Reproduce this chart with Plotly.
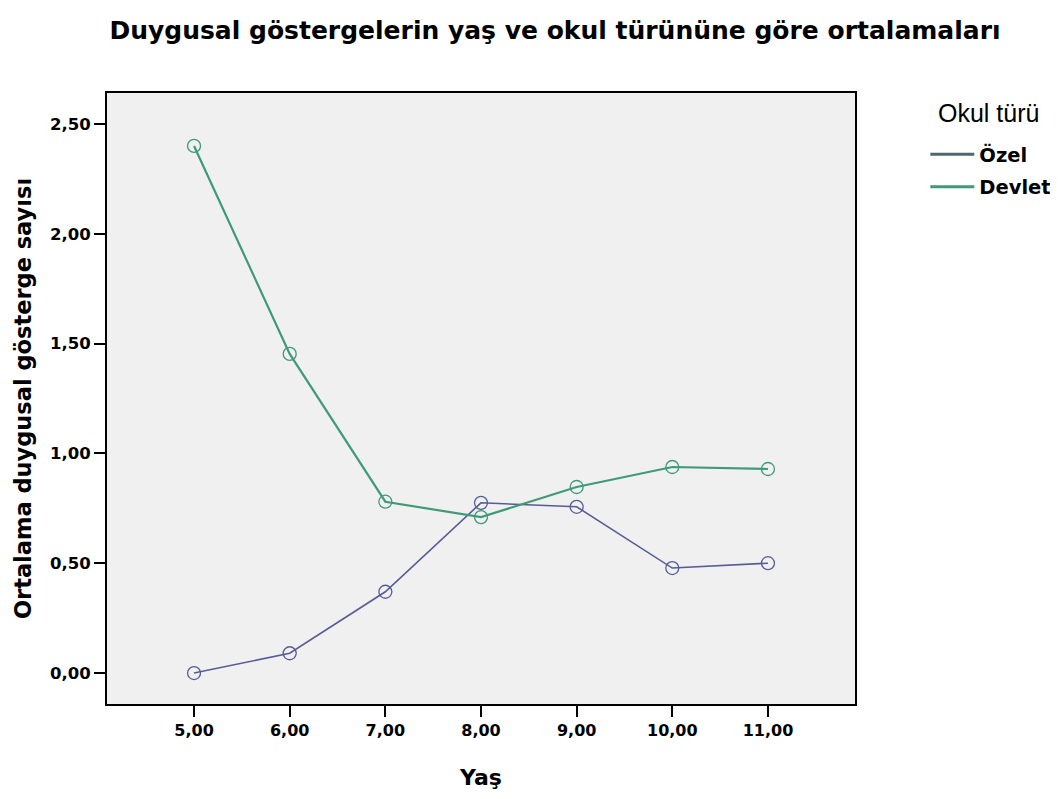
import plotly.graph_objects as go

ages = [5, 6, 7, 8, 9, 10, 11]
x_tick_labels = ["5,00", "6,00", "7,00", "8,00", "9,00", "10,00", "11,00"]
ozel = [0.00, 0.09, 0.37, 0.775, 0.757, 0.478, 0.50]
devlet = [2.40, 1.453, 0.78, 0.71, 0.847, 0.938, 0.929]
y_tick_vals = [0, 0.5, 1.0, 1.5, 2.0, 2.5]
y_tick_labels = ["0,00", "0,50", "1,00", "1,50", "2,00", "2,50"]
legend_title = "Okul türü"

c_ozel = "#575c96"
c_devlet = "#3f9a78"
BOLD = "DejaVu Sans"
REG = "Liberation Sans, Arial, sans-serif"

fig = go.Figure()
fig.add_trace(go.Scatter(x=ages, y=ozel, mode="lines+markers", showlegend=False,
                         line=dict(color=c_ozel, width=1.6),
                         marker=dict(symbol="circle-open", size=13, color=c_ozel, line=dict(width=1.3))))
fig.add_trace(go.Scatter(x=ages, y=devlet, mode="lines+markers", showlegend=False,
                         line=dict(color=c_devlet, width=2.2),
                         marker=dict(symbol="circle-open", size=13, color=c_devlet, line=dict(width=1.3))))
# legend-only entries (lines only)
fig.add_trace(go.Scatter(x=[None], y=[None], mode="lines", name="<b>Özel</b>", legendgroup="a",
                         line=dict(color="#4f6870", width=3)))
fig.add_trace(go.Scatter(x=[None], y=[None], mode="lines", name="<b>Devlet</b>", legendgroup="b",
                         line=dict(color=c_devlet, width=3)))

fig.update_layout(
    width=1058, height=799,
    margin=dict(l=99, r=211, t=85, b=103, autoexpand=False),
    paper_bgcolor="white", plot_bgcolor="#f0f0f0",
    font=dict(family=BOLD, color="black"),
    title=dict(text="<b>Duygusal göstergelerin yaş ve okul türününe göre ortalamaları</b>",
               x=0.517, xanchor="center", xref="container", y=0.9725, yanchor="middle",
               font=dict(size=25, family=BOLD, color="black")),
    showlegend=True,
    legend=dict(x=1.094, xanchor="left", y=0.931, yanchor="top", itemwidth=44,
                traceorder="grouped", tracegroupgap=4,
                font=dict(size=19.5, family=BOLD), bgcolor="rgba(0,0,0,0)"),
    annotations=[dict(text=legend_title, xref="paper", yref="paper", x=1.178, y=0.967,
                      xanchor="center", yanchor="middle", showarrow=False,
                      font=dict(size=25, family=REG, color="black"))],
)
fig.update_xaxes(range=[4.09, 11.91], tickvals=ages, ticktext=["<b>%s</b>" % t for t in x_tick_labels],
                 ticks="outside", ticklen=11, tickwidth=2, tickcolor="black",
                 showline=True, linecolor="black", linewidth=2, mirror=True,
                 showgrid=False, zeroline=False,
                 tickfont=dict(size=16, family=BOLD),
                 title=dict(text="<b>Yaş</b>", font=dict(size=22, family=BOLD), standoff=30))
fig.update_yaxes(range=[-0.141, 2.641], tickvals=y_tick_vals, ticktext=["<b>%s</b>" % t for t in y_tick_labels],
                 ticks="outside", ticklen=11, tickwidth=2, tickcolor="black",
                 showline=True, linecolor="black", linewidth=2, mirror=True,
                 showgrid=False, zeroline=False,
                 tickfont=dict(size=16.5, family=BOLD),
                 title=dict(text="<b>Ortalama duygusal gösterge sayısı</b>", font=dict(size=22.5, family=BOLD), standoff=12))

fig.write_html("out.html")
